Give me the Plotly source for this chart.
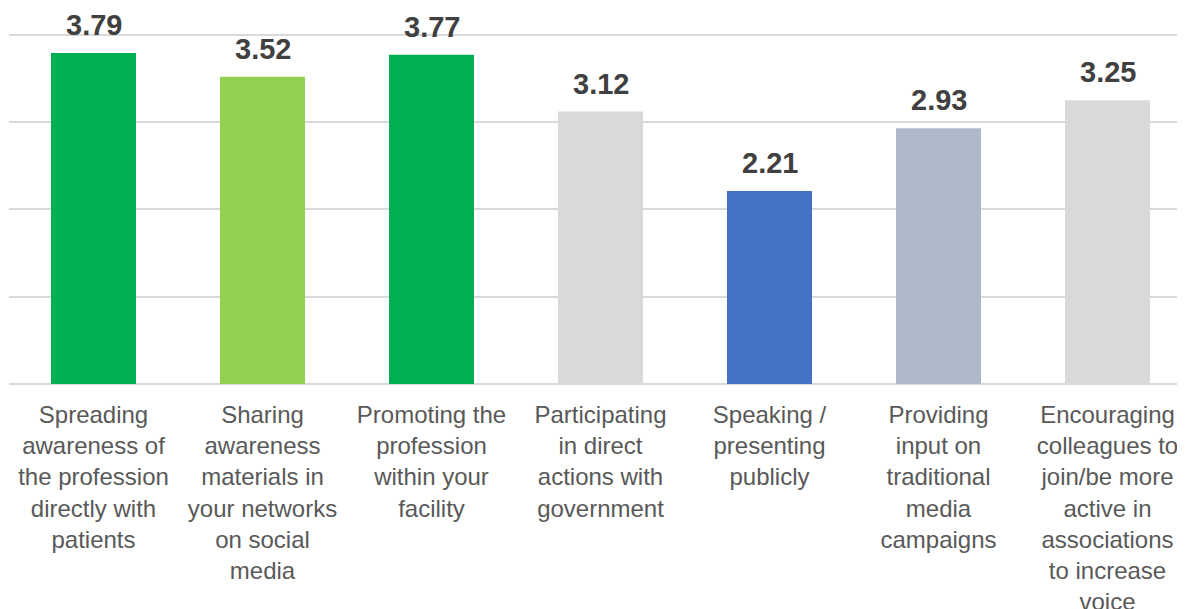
import plotly.graph_objects as go

categories = [
    "Spreading<br>awareness of<br>the profession<br>directly with<br>patients",
    "Sharing<br>awareness<br>materials in<br>your networks<br>on social<br>media",
    "Promoting the<br>profession<br>within your<br>facility",
    "Participating<br>in direct<br>actions with<br>government",
    "Speaking /<br>presenting<br>publicly",
    "Providing<br>input on<br>traditional<br>media<br>campaigns",
    "Encouraging<br>colleagues to<br>join/be more<br>active in<br>associations<br>to increase<br>voice",
]
values = [3.79, 3.52, 3.77, 3.12, 2.21, 2.93, 3.25]
value_labels = ["3.79", "3.52", "3.77", "3.12", "2.21", "2.93", "3.25"]
colors = ["#00B050", "#92D050", "#00B050", "#D9D9D9", "#4472C4", "#ADB9CA", "#D9D9D9"]
y_ticks = [0, 1, 2, 3, 4]

x_idx = list(range(len(categories)))
FONT = "Liberation Sans, Arial, sans-serif"

fig = go.Figure(
    go.Bar(
        x=x_idx,
        y=values,
        marker=dict(color=colors, line=dict(width=0)),
        width=0.503,
        hoverinfo="skip",
    )
)

for xi, v, lab in zip(x_idx, values, value_labels):
    fig.add_annotation(
        x=xi, y=v, xref="x", yref="y",
        text=lab, showarrow=False,
        yanchor="bottom", xanchor="center",
        yshift=10,
        font=dict(family=FONT, size=29, color="#404040", weight="bold"),
    )

# page body has an 8px margin, so the figure starts at (8, 8)
W, H = 1185, 609
left, top = 1, 25
plot_h = 351
plot_w = W - left
cat_px = 169
fig.update_layout(
    width=W,
    height=H,
    margin=dict(l=left, r=0, t=top, b=H - top - plot_h, pad=0),
    plot_bgcolor="white",
    paper_bgcolor="white",
    showlegend=False,
    font=dict(family=FONT),
)
fig.update_xaxes(
    tickmode="array",
    tickvals=x_idx,
    ticktext=categories,
    range=[-0.5, -0.5 + plot_w / cat_px],
    showgrid=False,
    showline=False,
    zeroline=False,
    ticks="",
    ticklabelstandoff=14,
    tickfont=dict(size=24, color="#595959"),
    automargin=False,
    fixedrange=True,
)
fig.update_yaxes(
    range=[0, 4.02],
    tickvals=y_ticks,
    showticklabels=False,
    showgrid=True,
    gridcolor="#D9D9D9",
    gridwidth=1.7,
    zeroline=True,
    zerolinecolor="#D9D9D9",
    zerolinewidth=1.7,
    showline=False,
    automargin=False,
    fixedrange=True,
)

fig.write_html("out.html")
